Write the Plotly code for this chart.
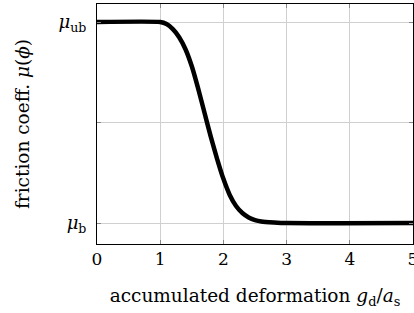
import plotly.graph_objects as go

x_vals = [0, 1.0, 1.1, 1.2, 1.3, 1.4, 1.5, 1.6, 1.7, 1.8, 1.9, 2.0, 2.1, 2.2, 2.3, 2.4, 2.5, 2.6, 2.8, 3.0, 5.0]
mu_vals = [1, 1, 0.99, 0.965, 0.925, 0.865, 0.78, 0.67, 0.55, 0.43, 0.32, 0.22, 0.14, 0.085, 0.05, 0.028, 0.015, 0.008, 0.003, 0.0, 0.0]
x_ticks = [0, 1, 2, 3, 4, 5]
y_tickvals = [0, 0.5, 1]
y_ticktext = ["<i>μ</i><sub>b</sub>", "", "<i>μ</i><sub>ub</sub>"]

font = dict(family="DejaVu Serif, serif", size=17, color="black")
title_font = dict(family="DejaVu Serif, serif", size=18.5, color="black")

fig = go.Figure(go.Scatter(x=x_vals, y=mu_vals, mode="lines",
                           line=dict(color="black", width=4.5, shape="spline", smoothing=0.6),
                           cliponaxis=True, hoverinfo="skip"))

fig.update_layout(
    width=414, height=313,
    margin=dict(l=97, r=1, t=4, b=69),
    paper_bgcolor="white", plot_bgcolor="white",
    showlegend=False, font=font,
)
fig.update_xaxes(range=[0, 5], tickvals=x_ticks, showgrid=True, gridcolor="#d0d0d0", gridwidth=1,
                 showline=True, linecolor="black", linewidth=1, mirror="ticks",
                 ticks="inside", ticklen=4, tickcolor="#888888", zeroline=False, automargin=False,
                 ticklabeloverflow="allow",
                 title=dict(text="accumulated deformation <i>g</i><sub>d</sub>/<i>a</i><sub>s</sub>",
                            font=title_font, standoff=20),
                 tickfont=font)
fig.update_yaxes(range=[-0.104, 1.09], tickvals=y_tickvals, ticktext=y_ticktext,
                 showgrid=True, gridcolor="#d0d0d0", gridwidth=1,
                 showline=True, linecolor="black", linewidth=1, mirror="ticks",
                 ticks="inside", ticklen=4, tickcolor="#888888", zeroline=False, automargin=False,
                 ticklabelstandoff=6,
                 title=dict(text="friction coeff. <i>μ</i>(<i>ϕ</i>)", font=title_font, standoff=24),
                 tickfont=dict(family="DejaVu Serif, serif", size=18, color="black"))

fig.write_html("out.html", config={"displayModeBar": False},
               post_script=["document.body.style.margin='0px';"])
